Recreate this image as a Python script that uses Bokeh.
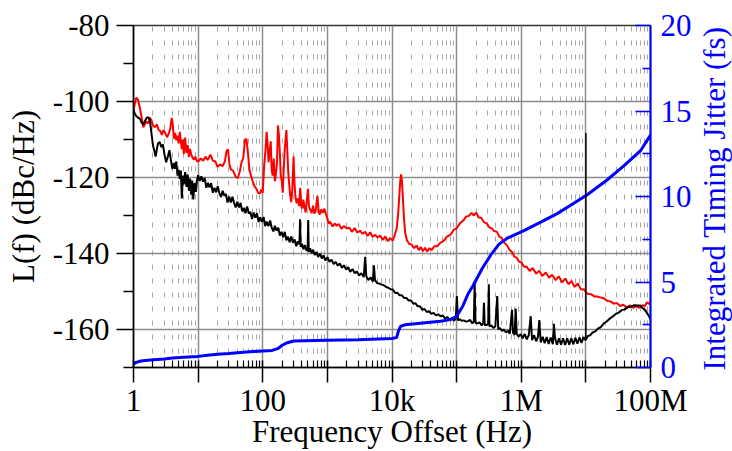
import math
from bokeh.plotting import figure
from bokeh.layouts import row
from bokeh.models import FixedTicker, LinearAxis, Range1d
from bokeh.core.properties import value
from bokeh.embed import file_html
from bokeh.resources import INLINE

# ---------------- data ----------------
# Phase noise L(f), red trace: (offset frequency in Hz, dBc/Hz)
red_trace = [
    (1.0, -102.5), (1.05, -100.5), (1.1, -99.0), (1.17, -99.5), (1.25, -101.5), (1.33, -104.0),
    (1.42, -106.8), (1.5, -106.0), (1.6, -105.3), (1.7, -105.8), (1.8, -104.3), (1.9, -105.0),
    (2.0, -106.2), (2.15, -106.8), (2.3, -106.0), (2.45, -107.5), (2.6, -107.8), (2.75, -108.8),
    (2.9, -107.5), (3.1, -108.3), (3.3, -109.4), (3.5, -108.5), (3.7, -107.2), (3.9, -104.3),
    (4.05, -106.0), (4.2, -109.8), (4.4, -108.3), (4.6, -110.2), (4.8, -109.0), (5.0, -111.0),
    (5.2, -108.0), (5.4, -110.5), (5.6, -112.5), (5.8, -110.0), (6.0, -113.8), (6.3, -109.5),
    (6.6, -113.5), (6.9, -111.5), (7.2, -114.6), (7.5, -112.5), (7.8, -113.9), (8.2, -114.8),
    (8.6, -115.3), (9.0, -114.5), (9.5, -115.6), (10, -115.8), (11, -115.0), (12, -115.6),
    (13, -114.5), (14, -115.4), (15.5, -114.0), (17, -115.6), (18.5, -115.8), (20, -117.2),
    (22, -116.6), (24, -117.0), (26, -115.7), (27.5, -113.0), (29, -112.6), (30.5, -116.5),
    (32, -117.8), (35, -118.3), (38, -119.8), (41, -120.2), (44, -118.5), (47, -116.0),
    (50, -114.8), (53, -110.2), (56, -109.8), (59, -113.5), (62, -117.8), (66, -119.6),
    (70, -121.0), (75, -122.4), (80, -123.0), (85, -124.1), (90, -124.2), (95, -123.2),
    (100, -124.0), (105, -117.0), (110, -113.0), (115, -108.0), (119, -111.5), (123, -116.0),
    (128, -113.0), (133, -110.5), (137, -117.5), (142, -119.5), (148, -115.0), (154, -121.0),
    (160, -119.0), (166, -116.0), (172, -106.3), (178, -109.0), (184, -113.5), (190, -119.5),
    (197, -121.0), (204, -124.0), (211, -118.0), (218, -113.0), (225, -110.0), (232, -107.5),
    (240, -113.0), (248, -118.5), (256, -121.5), (265, -124.5), (275, -126.5), (285, -124.0),
    (293, -119.0), (300, -114.5), (310, -121.5), (320, -125.0), (335, -126.8), (350, -125.5),
    (365, -127.5), (380, -122.7), (395, -127.6), (410, -128.2), (425, -125.8), (440, -127.5),
    (460, -129.2), (480, -126.3), (500, -123.0), (520, -127.8), (545, -128.5), (570, -129.4),
    (600, -127.4), (630, -129.5), (660, -128.8), (700, -124.8), (730, -128.6), (760, -129.8),
    (800, -128.4), (850, -129.3), (900, -128.2), (950, -129.6), (1000, -130.8), (1050, -132.2),
    (1100, -131.6), (1200, -132.9), (1300, -132.1), (1400, -132.7), (1500, -132.2), (1650, -133.5),
    (1800, -132.8), (2000, -133.4), (2200, -133.2), (2400, -134.3), (2650, -133.3), (2900, -134.5),
    (3200, -134.0), (3500, -134.8), (3850, -134.3), (4200, -135.4), (4600, -134.4), (5000, -135.6),
    (5500, -135.1), (6000, -135.8), (6600, -135.3), (7200, -136.4), (7900, -135.5), (8600, -136.7),
    (9400, -136.0), (10300, -136.6), (11000, -135.2), (11800, -133.5), (12400, -130.0),
    (12900, -125.5), (13400, -121.0), (13800, -119.2), (14200, -120.5), (14700, -125.0),
    (15300, -130.5), (16000, -134.5), (17000, -136.5), (18500, -137.5), (20000, -137.6),
    (22000, -138.6), (24000, -137.9), (26000, -139.1), (28000, -138.3), (30000, -139.4),
    (32500, -138.5), (35000, -139.5), (38000, -138.6), (41000, -139.1), (45000, -138.1),
    (50000, -138.1), (56000, -137.2), (63000, -136.7), (70000, -135.6), (80000, -135.1),
    (90000, -133.8), (100000, -133.4), (113000, -132.0), (126000, -131.4), (140000, -130.3),
    (155000, -130.1), (170000, -129.3), (185000, -130.0), (200000, -129.2), (220000, -130.5),
    (240000, -130.6), (265000, -131.8), (290000, -132.0), (320000, -133.1), (350000, -133.4),
    (380000, -134.1), (420000, -134.3), (460000, -135.6), (500000, -135.9), (550000, -137.2),
    (600000, -137.8), (660000, -139.1), (720000, -139.6), (780000, -140.8), (850000, -141.1),
    (930000, -142.2), (1.0e6, -142.3), (1.1e6, -143.5), (1.2e6, -143.4), (1.35e6, -144.6),
    (1.5e6, -143.8), (1.7e6, -145.3), (1.9e6, -144.5), (2.1e6, -145.9), (2.4e6, -145.0),
    (2.7e6, -146.4), (3.0e6, -145.6), (3.4e6, -147.0), (3.8e6, -146.0), (4.3e6, -147.6),
    (4.8e6, -146.6), (5.4e6, -148.1), (6.0e6, -147.2), (6.7e6, -148.8), (7.5e6, -147.9),
    (8.4e6, -149.5), (9.3e6, -149.4), (1.05e7, -150.6), (1.2e7, -150.7), (1.35e7, -151.3),
    (1.5e7, -151.3), (1.7e7, -151.6), (1.9e7, -151.8), (2.15e7, -152.5), (2.4e7, -152.6),
    (2.7e7, -153.2), (3.0e7, -153.0), (3.4e7, -153.8), (3.8e7, -153.5), (4.3e7, -154.2),
    (4.8e7, -153.6), (5.4e7, -154.3), (6.0e7, -153.8), (6.7e7, -154.3), (7.5e7, -153.6),
    (8.2e7, -153.8), (8.8e7, -152.8), (9.4e7, -153.3), (1.0e8, -152.6),
]

# Phase noise L(f), black trace: (offset frequency in Hz, dBc/Hz)
black_trace = [
    (1.0, -102.3), (1.05, -103.2), (1.1, -103.8), (1.17, -104.2), (1.25, -104.5), (1.33, -105.5),
    (1.42, -106.1), (1.5, -105.2), (1.6, -104.3), (1.7, -104.1), (1.8, -105.0), (1.9, -108.5),
    (2.0, -111.5), (2.1, -113.0), (2.2, -114.5), (2.3, -112.5), (2.4, -111.0), (2.55, -110.7),
    (2.7, -112.0), (2.85, -111.3), (3.0, -113.8), (3.2, -116.0), (3.4, -114.5), (3.6, -112.8),
    (3.8, -115.6), (4.0, -117.8), (4.2, -116.2), (4.4, -117.7), (4.6, -115.8), (4.8, -119.5),
    (5.0, -118.0), (5.2, -120.4), (5.4, -118.2), (5.6, -125.5), (5.8, -119.5), (6.0, -121.8),
    (6.3, -118.6), (6.6, -122.5), (6.9, -119.2), (7.2, -123.5), (7.5, -120.3), (7.8, -124.5),
    (8.1, -120.8), (8.4, -125.8), (8.8, -121.5), (9.2, -123.8), (9.6, -120.8),
    (10, -119.4), (10.6, -120.9), (11.2, -119.7), (11.9, -121.1), (12.6, -120.1), (13.4, -122.7),
    (14.2, -121.4), (15, -122.6), (15.9, -121.5), (16.9, -124.0), (17.9, -122.7), (19, -123.9),
    (20.1, -122.3), (21.3, -124.1), (22.6, -125.1), (24, -123.5), (25.4, -124.8), (26.9, -124.3),
    (28.5, -126.6), (30.2, -125.0), (32, -126.6), (34, -125.1), (36, -126.7), (38.1, -127.9),
    (40.4, -126.4), (42.8, -127.9), (45.4, -126.7), (48.1, -128.9), (51, -128.0), (54.1, -129.4),
    (57.3, -127.6), (60.8, -129.5), (64.4, -129.1), (68.3, -130.9), (72.4, -129.2), (76.7, -130.6),
    (81.3, -129.4), (86.2, -131.7), (91.4, -130.5), (96.9, -131.7), (103, -130.4), (109, -132.8),
    (115, -131.6), (122, -132.8), (130, -131.3), (137, -133.1), (146, -134.2), (154, -132.7),
    (164, -134.0), (174, -133.2), (184, -135.3), (195, -134.3), (207, -135.7), (219, -134.3),
    (232, -136.5), (246, -135.6), (261, -137.0), (277, -135.5), (293, -137.2), (311, -136.3),
    (330, -138.1), (349, -136.8), (370, -137.6), (378, -131.0), (386, -138.3), (405, -137.4),
    (425, -138.9), (450, -137.8), (475, -139.3), (495, -138.4), (505, -131.2), (515, -139.6),
    (540, -138.6), (570, -140.0), (600, -139.0), (640, -140.4), (680, -139.6), (720, -140.9),
    (770, -140.0), (820, -141.3), (870, -140.5), (930, -141.8), (1000, -141.0), (1080, -142.2),
    (1160, -141.6), (1250, -142.8), (1350, -142.2), (1450, -143.2), (1560, -142.6), (1680, -143.8),
    (1800, -143.1), (1950, -144.2), (2100, -143.6), (2250, -144.8), (2450, -144.1), (2650, -145.2),
    (2850, -144.7), (3100, -145.8), (3350, -145.2), (3650, -146.2), (3850, -140.9), (4000, -146.0),
    (4300, -147.0), (4700, -146.3), (5050, -147.4), (5250, -143.1), (5450, -147.0), (5900, -147.8),
    (6400, -147.9), (6900, -148.2), (7500, -148.4), (8100, -148.8), (8800, -149.0), (9500, -149.4),
    (10300, -149.5), (11200, -150.4), (12100, -150.3), (13100, -151.0), (14200, -151.0),
    (15400, -151.7), (16700, -151.7), (18100, -152.4), (19600, -152.3), (21300, -153.2),
    (23100, -153.1), (25000, -153.9), (27100, -153.9), (29400, -154.8), (31900, -154.6),
    (34600, -155.4), (37500, -155.2), (40700, -155.9), (44100, -155.6), (47800, -156.3),
    (51800, -156.0), (56200, -156.5), (61000, -156.3), (66100, -157.1), (71700, -156.7),
    (77700, -157.5), (84300, -157.0), (91400, -157.7), (97000, -157.1), (101000, -151.2),
    (105000, -157.6), (112000, -157.3), (120000, -157.7), (129000, -157.6), (139000, -157.9),
    (150000, -157.8), (162000, -157.5), (175000, -158.4), (185000, -157.8), (190000, -147.4),
    (196000, -158.3), (210000, -158.4), (226000, -158.1), (244000, -158.9), (258000, -158.3),
    (265000, -153.0), (272000, -158.8), (292000, -158.8), (308000, -158.5), (315000, -148.1),
    (322000, -159.2), (345000, -158.9), (370000, -159.6), (397000, -159.2), (425000, -151.2),
    (440000, -159.9), (470000, -159.6), (505000, -160.4), (540000, -160.0), (580000, -160.8),
    (620000, -160.3), (665000, -161.1), (720000, -154.8), (745000, -160.8), (790000, -161.4),
    (820000, -154.5), (850000, -161.1), (910000, -161.9), (980000, -161.2), (1.05e6, -162.3),
    (1.13e6, -161.2), (1.22e6, -162.6), (1.31e6, -161.4), (1.4e6, -156.5), (1.47e6, -162.8),
    (1.58e6, -161.5), (1.7e6, -163.1), (1.82e6, -161.8), (1.9e6, -157.5), (2.0e6, -163.4),
    (2.15e6, -161.9), (2.3e6, -163.6), (2.48e6, -162.0), (2.66e6, -163.8), (2.86e6, -162.1),
    (3.08e6, -163.9), (3.2e6, -158.5), (3.32e6, -162.2), (3.57e6, -164.0), (3.84e6, -162.3),
    (4.13e6, -164.0), (4.44e6, -162.3), (4.78e6, -164.1), (5.14e6, -162.3), (5.53e6, -164.0),
    (5.95e6, -162.3), (6.4e6, -163.9), (6.88e6, -162.2), (7.4e6, -163.7), (7.96e6, -162.1),
    (8.56e6, -163.5), (9.2e6, -162.0), (9.9e6, -162.8), (1.07e7, -161.7), (1.15e7, -161.6),
    (1.27e7, -160.8), (1.4e7, -160.5), (1.55e7, -159.7), (1.7e7, -159.4), (1.9e7, -158.4),
    (2.1e7, -157.9), (2.35e7, -157.1), (2.6e7, -156.6), (2.9e7, -155.9), (3.2e7, -155.6),
    (3.6e7, -154.9), (4.0e7, -154.7), (4.5e7, -154.1), (5.0e7, -154.0), (5.6e7, -153.6),
    (6.2e7, -153.7), (6.9e7, -153.7), (7.6e7, -154.4), (8.3e7, -154.9), (9.0e7, -155.9),
    (9.5e7, -156.5), (1.0e8, -157.3),
]

# Integrated timing jitter: (offset frequency in Hz, fs)
jitter_trace = [
    (1.0, 0.2), (1.1, 0.3), (1.3, 0.38), (2.0, 0.45), (3.0, 0.5), (4.0, 0.55), (6.0, 0.6),
    (10, 0.65), (14, 0.72), (20, 0.78), (30, 0.82), (45, 0.88), (70, 0.93), (100, 0.97),
    (140, 1.0), (170, 1.1), (200, 1.3), (240, 1.45), (300, 1.55), (1000, 1.6), (3000, 1.63),
    (10000, 1.7), (11800, 1.75), (12500, 2.1), (13500, 2.4), (16000, 2.5), (30000, 2.6),
    (56000, 2.7), (80000, 2.8), (100000, 3.0), (125000, 3.6), (150000, 4.3), (180000, 4.8),
    (250000, 5.8), (340000, 6.6), (450000, 7.2), (600000, 7.55), (1.1e6, 8.0), (2.0e6, 8.5),
    (3.6e6, 9.0), (6.5e6, 9.6), (1.05e7, 10.1), (2.1e7, 10.95), (3.9e7, 11.8), (7.1e7, 12.7),
    (1.0e8, 13.6),
]

# Vertical marker at the 10 MHz offset (Hz, top dBc/Hz, bottom dBc/Hz)
marker_f = 1.0e7
marker_top = -108.3
marker_bottom = -162.3

x_ticks = [1, 10, 100, 1e3, 1e4, 1e5, 1e6, 1e7, 1e8]
x_tick_labels = ["1", "", "100", "", "10k", "", "1M", "", "100M"]
y_ticks = [-160, -140, -120, -100, -80]
y_tick_labels = ["-160", "-140", "-120", "-100", "-80"]
y_minor_ticks = [-170, -150, -130, -110, -90]
jitter_ticks = [0, 5, 10, 15, 20]
jitter_minor_ticks = [2.5, 7.5, 12.5, 17.5]

x_title = "Frequency Offset (Hz)"
y_title = "L(f) (dBc/Hz)"
jitter_title = "Integrated Timing Jitter (fs)"

# ---------------- styling ----------------
SERIF = "Liberation Serif"
FS = "31px"
RED = "#ff0000"
BLUE = "#0000ff"
GRID = "#8c8c8c"

p = figure(
    width=694, height=451,
    x_axis_type="log",
    x_range=Range1d(1, 1e8), y_range=Range1d(-170, -80),
    output_backend="svg", toolbar_location=None,
    min_border_left=133, min_border_right=44,
    min_border_top=25, min_border_bottom=81,
)
p.frame_align = False
p.extra_y_ranges = {"jit": Range1d(0, 20)}
p.background_fill_color = "white"
p.border_fill_color = "white"
p.outline_line_color = "#333333"
p.outline_line_width = 1.5

# minor ticks on the log axis: 2..9 within every decade
x_minor = [m * d for d in x_ticks[:-1] for m in range(2, 10)]
x_ticker = FixedTicker(ticks=x_ticks, minor_ticks=x_minor)
y_ticker = FixedTicker(ticks=y_ticks, minor_ticks=y_minor_ticks)


def title_style(axis, color):
    axis.axis_label_text_font = SERIF
    axis.axis_label_text_font_size = FS
    axis.axis_label_text_font_style = "normal"
    axis.axis_label_text_color = color


xa = p.xaxis[0]
xa.ticker = x_ticker
xa.major_label_overrides = {t: s for t, s in zip(x_ticks, x_tick_labels)}
xa.axis_line_color = "black"
xa.axis_line_width = 1.5
xa.major_tick_line_color = "black"
xa.major_tick_line_width = 1.5
xa.minor_tick_line_color = "black"
xa.minor_tick_line_width = 1.2
xa.major_tick_out = 15
xa.major_tick_in = 7
xa.minor_tick_in = 7
xa.minor_tick_out = 0
xa.major_label_standoff = 0
xa.major_label_text_font = SERIF
xa.major_label_text_font_size = FS
xa.major_label_text_color = "black"
xa.axis_label = x_title
xa.axis_label_standoff = -7
title_style(xa, "black")

ya = p.yaxis[0]
ya.ticker = y_ticker
ya.major_label_overrides = {t: s for t, s in zip(y_ticks, y_tick_labels)}
ya.axis_line_color = "black"
ya.axis_line_width = 1.5
ya.major_tick_line_color = "black"
ya.major_tick_line_width = 1.5
ya.minor_tick_line_color = "black"
ya.minor_tick_line_width = 1.5
ya.major_tick_out = 17
ya.major_tick_in = 0
ya.minor_tick_out = 10
ya.minor_tick_in = 0
ya.major_label_standoff = 7
ya.major_label_text_font = SERIF
ya.major_label_text_font_size = FS
ya.major_label_text_color = "black"
ya.axis_label = y_title
ya.axis_label_standoff = 9
title_style(ya, "black")

ra = LinearAxis(
    y_range_name="jit",
    ticker=FixedTicker(ticks=jitter_ticks, minor_ticks=jitter_minor_ticks),
)
ra.axis_line_color = BLUE
ra.axis_line_width = 2
ra.major_tick_line_color = BLUE
ra.major_tick_line_width = 1.5
ra.minor_tick_line_color = BLUE
ra.minor_tick_line_width = 1.5
ra.major_tick_in = 15
ra.major_tick_out = 0
ra.minor_tick_in = 8
ra.minor_tick_out = 0
ra.major_label_standoff = 10
ra.major_label_text_font = SERIF
ra.major_label_text_font_size = FS
ra.major_label_text_color = BLUE
p.add_layout(ra, "right")

xg = p.xgrid[0]
xg.ticker = x_ticker
xg.grid_line_color = GRID
xg.grid_line_width = 1.5
xg.minor_grid_line_color = "#a6a6a6"
xg.minor_grid_line_width = 1
xg.minor_grid_line_dash = "5 9"

yg = p.ygrid[0]
yg.ticker = y_ticker
yg.grid_line_color = GRID
yg.grid_line_width = 1.5

# ---------------- traces ----------------
red_f, red_db = zip(*red_trace)
black_f, black_db = zip(*black_trace)
jit_f, jit_fs = zip(*jitter_trace)

p.line(list(red_f), list(red_db), line_color=RED, line_width=2)
p.line(list(black_f), list(black_db), line_color="black", line_width=2)
p.line(list(jit_f), list(jit_fs), line_color=BLUE, line_width=3, y_range_name="jit")
p.segment(x0=[marker_f], y0=[marker_top], x1=[marker_f], y1=[marker_bottom],
          line_color="black", line_width=1.5)

# ---------------- right-hand title strip (reads bottom-to-top) ----------------
# the strip's frame spans its whole canvas, so 1 data unit = 1 pixel
strip = figure(
    width=38, height=451, title=None,
    x_range=Range1d(0, 38), y_range=Range1d(0, 451),
    x_axis_location=None, y_axis_location=None,
    output_backend="svg", toolbar_location=None,
    min_border=0, outline_line_color=None,
)
strip.frame_align = False
strip.grid.visible = False
strip.background_fill_color = "white"
strip.border_fill_color = "white"
strip.text(x=[20], y=[253], text=[jitter_title], angle=math.pi / 2,
           text_align="center", text_baseline="middle",
           text_font=value(SERIF), text_font_size=value("31px"), text_color=BLUE)

open("out.html", "w").write(file_html(row(p, strip), INLINE))
